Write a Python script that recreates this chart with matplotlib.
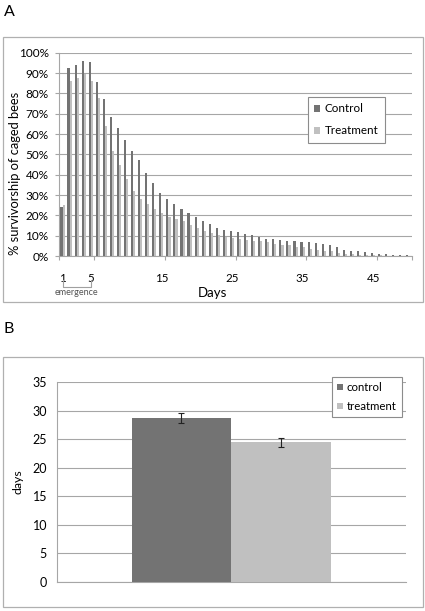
import numpy as np
import matplotlib.pyplot as plt
from matplotlib.patches import Rectangle

# Datos del panel A: supervivencia diaria (%)
days = np.arange(1, 51)
control = [24, 92.5, 94, 96, 95.5, 85.5, 77, 68.5, 63, 57,
           51.5, 47, 41, 36, 31, 28, 25.5, 23, 21, 19,
           17, 15.5, 14, 13, 12.4, 11.7, 11, 10.1, 9.3, 8.6,
           8.3, 7.8, 7.6, 7.2, 6.8, 6.7, 6.3, 6, 5.2, 4.4,
           3.1, 2.4, 2.3, 1.9, 1.5, 1.1, 0.8, 0.6, 0.5, 0.4]
treatment = [25, 86, 87.5, 89.5, 86, 77.5, 64, 51.5, 44.7, 37.7,
             32, 27.8, 25.4, 23, 21, 19.4, 18.4, 17, 15.3, 14,
             12.3, 11.2, 10.2, 9.3, 8.8, 8.3, 8, 7.3, 7.2, 6.7,
             6, 5.5, 5.2, 4.5, 4.2, 3.6, 2.9, 2.6, 2.4, 1.5,
             1, 0.8, 0.6, 0.5, 0.4, 0.3, 0.2, 0.1, 0.1, 0.1]
day_labels = [1, 5, 15, 25, 35, 45]

# Datos del panel B: longevidad media (dias)
groups = ['control', 'treatment']
longevity = [28.7, 24.4]
longevity_err = [0.8, 0.75]

dark = '#737373'
light = '#c0c0c0'
grid_c = '#a6a6a6'
font = ['Lato', 'DejaVu Sans']
plt.rcParams['font.family'] = font

W, H = 425, 611
fig = plt.figure(figsize=(W / 100, H / 100), dpi=100)

def fx(px):
    return px / W

def fy(py):
    return 1 - py / H

# Cajas exteriores
for top, bot in [(37, 302), (356.7, 606.7)]:
    fig.patches.append(Rectangle((fx(3), fy(bot)), fx(420), (bot - top) / H,
                                 transform=fig.transFigure, fill=False,
                                 edgecolor='#b0b0b0', linewidth=0.9))
fig.text(fx(3.5), fy(11.5), 'A', fontsize=11.5, va='center', ha='left')
fig.text(fx(3.5), fy(329), 'B', fontsize=11.5, va='center', ha='left')

# ---------------- Panel A ----------------
axA = fig.add_axes([fx(59), fy(256), fx(412 - 59), (256 - 52.7) / H])
w = 0.3
axA.bar(days - w / 2, control, width=w, color=dark, label='Control', zorder=3,
        antialiased=False)
axA.bar(days + w / 2, treatment, width=w, color=light, label='Treatment', zorder=3,
        antialiased=False)
axA.set_xlim(0.5, 50.5)
axA.set_ylim(0, 100)
axA.set_yticks(np.arange(0, 101, 10))
axA.set_yticklabels([f'{v}%' for v in range(0, 101, 10)])
axA.set_xticks(day_labels)
axA.set_xticks([0.5, 5.5, 15.5, 25.5, 35.5, 45.5, 50.5], minor=True)
axA.tick_params(axis='x', which='major', length=0, pad=12, labelsize=8.3)
axA.tick_params(axis='x', which='minor', length=3, color=grid_c, width=0.8)
axA.tick_params(axis='y', length=3, color=grid_c, width=0.8, pad=4.5, labelsize=8.5)
axA.yaxis.grid(True, color=grid_c, linewidth=0.8, zorder=0)
axA.set_axisbelow(True)
for s in ['top', 'right']:
    axA.spines[s].set_visible(False)
for s in ['left', 'bottom']:
    axA.spines[s].set_color(grid_c)
    axA.spines[s].set_linewidth(0.8)

axA.text(-0.1246, 0.406, '% survivorship of caged bees', transform=axA.transAxes,
         rotation=90, ha='center', va='center', fontsize=9.3)
axA.text(0.436, -0.182, 'Days', transform=axA.transAxes, ha='center', va='center',
         fontsize=9.5)
tr = axA.get_xaxis_transform()
axA.plot([1, 1, 5, 5], [-0.118, -0.151, -0.151, -0.118], transform=tr,
         color='#a0a0a0', linewidth=0.8, clip_on=False)
axA.text(3, -0.178, 'emergence', transform=tr, ha='center', va='center',
         fontsize=6.5, color='#555555')

legA = axA.legend(loc='upper left', bbox_to_anchor=(fx(308), fy(97)),
                  bbox_transform=fig.transFigure, fontsize=8.4,
                  handlelength=0.5, handleheight=0.5, handletextpad=0.35,
                  borderpad=0.55, labelspacing=0.95, borderaxespad=0,
                  fancybox=False, framealpha=1, edgecolor='#8c8c8c')
legA.get_frame().set_linewidth(0.8)

# ---------------- Panel B ----------------
axB = fig.add_axes([fx(56.7), fy(581.7), fx(405.7 - 56.7), (581.7 - 382) / H])
bw = 0.285
xpos = [-bw / 2, bw / 2]
axB.bar(xpos, longevity, width=bw, color=[dark, light], zorder=3)
axB.errorbar(xpos, longevity, yerr=longevity_err, fmt='none', ecolor='#222222',
             elinewidth=0.8, capsize=2.5, capthick=0.8, zorder=4)
for xp, c, g in zip(xpos, [dark, light], groups):
    axB.bar([xp], [0], width=bw, color=c, label=g)
axB.set_xlim(-0.5, 0.5)
axB.set_ylim(0, 35)
axB.set_yticks(np.arange(0, 36, 5))
axB.set_xticks([])
axB.tick_params(axis='y', length=0, pad=7, labelsize=9)
axB.yaxis.grid(True, color=grid_c, linewidth=0.8, zorder=0)
axB.set_axisbelow(True)
for s in ['top', 'right']:
    axB.spines[s].set_visible(False)
for s in ['left', 'bottom']:
    axB.spines[s].set_color(grid_c)
    axB.spines[s].set_linewidth(0.8)
axB.text(-0.111, 0.5, 'days', transform=axB.transAxes, rotation=90,
         ha='center', va='center', fontsize=8.8)

legB = axB.legend(loc='upper left', bbox_to_anchor=(fx(332), fy(376.7)),
                  bbox_transform=fig.transFigure, fontsize=8.2,
                  handlelength=0.5, handleheight=0.5, handletextpad=0.35,
                  borderpad=0.45, labelspacing=0.7, borderaxespad=0,
                  fancybox=False, framealpha=1, edgecolor='#8c8c8c')
legB.get_frame().set_linewidth(0.8)

fig.savefig('out.png', dpi=100)
